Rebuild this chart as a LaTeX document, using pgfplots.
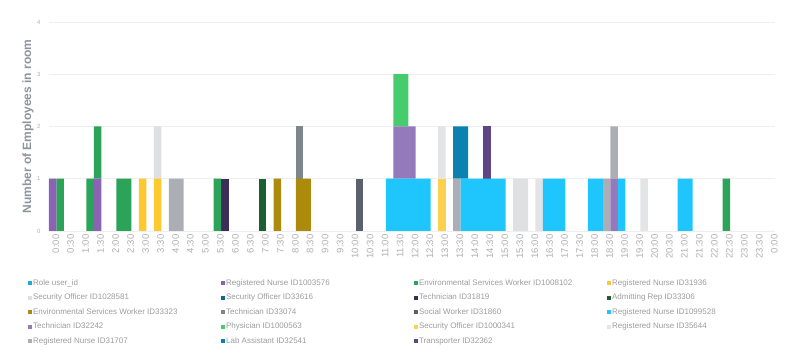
\documentclass[border=0pt]{standalone}
\usepackage{fontspec}
\setmainfont{Liberation Sans}
\usepackage{pgfplots}
\usepackage{pgfplotstable}
\pgfplotsset{compat=1.18}
\definecolor{c0}{HTML}{1FA8DC}
\definecolor{c1}{HTML}{8A63B3}
\definecolor{c2}{HTML}{2BA359}
\definecolor{c3}{HTML}{FCC930}
\definecolor{c4}{HTML}{DFE0E2}
\definecolor{c5}{HTML}{0C6A8E}
\definecolor{c6}{HTML}{3B2D55}
\definecolor{c7}{HTML}{1C5F32}
\definecolor{c8}{HTML}{AC8A0C}
\definecolor{c9}{HTML}{80868D}
\definecolor{c10}{HTML}{5B616B}
\definecolor{c11}{HTML}{1FC5FD}
\definecolor{c12}{HTML}{957ABB}
\definecolor{c13}{HTML}{46CC6C}
\definecolor{c14}{HTML}{FDD14F}
\definecolor{c15}{HTML}{E3E4E6}
\definecolor{c16}{HTML}{ABAFB5}
\definecolor{c17}{HTML}{0A82B0}
\definecolor{c18}{HTML}{5E4585}
\definecolor{ticktext}{HTML}{B0B0B0}
\definecolor{legtext}{HTML}{9C9C9C}
\definecolor{ylabtext}{HTML}{8C949C}
\definecolor{gridc}{HTML}{EEEEEE}
\newcommand{\lgd}[1]{\makebox[187pt][l]{#1}}
\pgfplotstableread{
x s1 s2 s3 s4 s5 s6 s7 s8 s9 s10 s11 s12 s13 s14 s15 s16 s17 s18
0 1 0 0 0 0 0 0 0 0 0 0 0 0 0 0 0 0 0
1 0 1 0 0 0 0 0 0 0 0 0 0 0 0 0 0 0 0
5 0 1 0 0 0 0 0 0 0 0 0 0 0 0 0 0 0 0
6 1 1 0 0 0 0 0 0 0 0 0 0 0 0 0 0 0 0
9 0 1 0 0 0 0 0 0 0 0 0 0 0 0 0 0 0 0
10 0 1 0 0 0 0 0 0 0 0 0 0 0 0 0 0 0 0
12 0 0 1 0 0 0 0 0 0 0 0 0 0 0 0 0 0 0
14 0 0 1 1 0 0 0 0 0 0 0 0 0 0 0 0 0 0
16 0 0 0 0 0 0 0 0 0 0 0 0 0 0 0 1 0 0
17 0 0 0 0 0 0 0 0 0 0 0 0 0 0 0 1 0 0
22 0 1 0 0 0 0 0 0 0 0 0 0 0 0 0 0 0 0
23 0 0 0 0 0 1 0 0 0 0 0 0 0 0 0 0 0 0
28 0 0 0 0 0 0 1 0 0 0 0 0 0 0 0 0 0 0
30 0 0 0 0 0 0 0 1 0 0 0 0 0 0 0 0 0 0
33 0 0 0 0 0 0 0 1 1 0 0 0 0 0 0 0 0 0
34 0 0 0 0 0 0 0 1 0 0 0 0 0 0 0 0 0 0
41 0 0 0 0 0 0 0 0 0 1 0 0 0 0 0 0 0 0
45 0 0 0 0 0 0 0 0 0 0 1 0 0 0 0 0 0 0
46 0 0 0 0 0 0 0 0 0 0 1 1 1 0 0 0 0 0
47 0 0 0 0 0 0 0 0 0 0 1 1 1 0 0 0 0 0
48 0 0 0 0 0 0 0 0 0 0 1 1 0 0 0 0 0 0
49 0 0 0 0 0 0 0 0 0 0 1 0 0 0 0 0 0 0
50 0 0 0 0 0 0 0 0 0 0 1 0 0 0 0 0 0 0
52 0 0 0 0 0 0 0 0 0 0 0 0 0 1 1 0 0 0
54 0 0 0 0 0 0 0 0 0 0 0 0 0 0 0 1 1 0
55 0 0 0 0 0 0 0 0 0 0 1 0 0 0 0 0 1 0
56 0 0 0 0 0 0 0 0 0 0 1 0 0 0 0 0 0 0
57 0 0 0 0 0 0 0 0 0 0 1 0 0 0 0 0 0 0
58 0 0 0 0 0 0 0 0 0 0 1 0 0 0 0 0 0 1
59 0 0 0 0 0 0 0 0 0 0 1 0 0 0 0 0 0 0
60 0 0 0 0 0 0 0 0 0 0 1 0 0 0 0 0 0 0
62 0 0 0 1 0 0 0 0 0 0 0 0 0 0 0 0 0 0
63 0 0 0 1 0 0 0 0 0 0 0 0 0 0 0 0 0 0
65 0 0 0 0 0 0 0 0 0 0 0 0 0 0 1 0 0 0
66 0 0 0 0 0 0 0 0 0 0 1 0 0 0 0 0 0 0
67 0 0 0 0 0 0 0 0 0 0 1 0 0 0 0 0 0 0
68 0 0 0 0 0 0 0 0 0 0 1 0 0 0 0 0 0 0
72 0 0 0 0 0 0 0 0 0 0 1 0 0 0 0 0 0 0
73 0 0 0 0 0 0 0 0 0 0 1 0 0 0 0 0 0 0
74 0 0 0 0 0 0 0 0 0 0 0 0 0 0 0 1 0 0
75 0 0 0 0 0 0 0 0 0 0 0 1 0 0 0 1 0 0
76 0 0 0 0 0 0 0 0 0 0 1 0 0 0 0 0 0 0
79 0 0 0 0 0 0 0 0 0 0 0 0 0 0 1 0 0 0
84 0 0 0 0 0 0 0 0 0 0 1 0 0 0 0 0 0 0
85 0 0 0 0 0 0 0 0 0 0 1 0 0 0 0 0 0 0
90 0 1 0 0 0 0 0 0 0 0 0 0 0 0 0 0 0 0
}\data
\begin{document}
\begin{tikzpicture}
\begin{axis}[
  name=ax,
  scale only axis,
  width=726pt, height=209pt,
  xmin=-0.5, xmax=96.5,
  ymin=0, ymax=4,
  ybar stacked,
  bar width=1,
  every axis plot post/.append style={legend image code/.code={\fill[##1,draw=none] (0pt,-2pt) rectangle (4pt,2pt);}},
  axis x line=bottom, axis y line=left,
  axis line style={draw=none},
  major tick length=0pt,
  tick style={draw=none},
  ymajorgrids,
  grid style={gridc, line width=0.7pt},
  ytick={0,1,2,3,4},
  /pgf/number format/assume math mode=true,
  yticklabel style={font=\fontsize{6}{7}\selectfont, text=ticktext, xshift=-5pt},
  xtick={0,2,...,96},
  xticklabels={0:00,0:30,1:00,1:30,2:00,2:30,3:00,3:30,4:00,4:30,5:00,5:30,6:00,6:30,7:00,7:30,8:00,8:30,9:00,9:30,10:00,10:30,11:00,11:30,12:00,12:30,13:00,13:30,14:00,14:30,15:00,15:30,16:00,16:30,17:00,17:30,18:00,18:30,19:00,19:30,20:00,20:30,21:00,21:30,22:00,22:30,23:00,23:30,0:00},
  xticklabel style={font=\fontsize{9.5}{10}\selectfont, text=ticktext, rotate=90, anchor=east, yshift=-3pt},
  ylabel={Number of Employees in room},
  every axis y label/.style={at={(axis description cs:-0.029,0.5)}, rotate=90, anchor=center, font=\bfseries\fontsize{12}{13}\selectfont, text=ylabtext},
  legend columns=4,
  legend cell align=left,
  legend style={at={(axis description cs:-0.029,-0.232)}, anchor=north west, draw=none, fill=none,
    font=\fontsize{8}{9}\selectfont, text=legtext, inner sep=0pt, row sep=7.5pt, column sep=0pt,
    nodes={inner ysep=0pt, inner xsep=1pt, text height=5.5pt, text depth=1.5pt}},
]
\addlegendimage{fill=c0, draw=none}
\addlegendentry{\lgd{Role user\_id}}
\addplot[fill=c1, draw=none] table[x=x,y=s1]{\data};
\addlegendentry{\lgd{Registered Nurse ID1003576}}
\addplot[fill=c2, draw=none] table[x=x,y=s2]{\data};
\addlegendentry{\lgd{Environmental Services Worker ID1008102}}
\addplot[fill=c3, draw=none] table[x=x,y=s3]{\data};
\addlegendentry{\lgd{Registered Nurse ID31936}}
\addplot[fill=c4, draw=none] table[x=x,y=s4]{\data};
\addlegendentry{\lgd{Security Officer ID1028581}}
\addplot[fill=c5, draw=none] table[x=x,y=s5]{\data};
\addlegendentry{\lgd{Security Officer ID33616}}
\addplot[fill=c6, draw=none] table[x=x,y=s6]{\data};
\addlegendentry{\lgd{Technician ID31819}}
\addplot[fill=c7, draw=none] table[x=x,y=s7]{\data};
\addlegendentry{\lgd{Admitting Rep ID33306}}
\addplot[fill=c8, draw=none] table[x=x,y=s8]{\data};
\addlegendentry{\lgd{Environmental Services Worker ID33323}}
\addplot[fill=c9, draw=none] table[x=x,y=s9]{\data};
\addlegendentry{\lgd{Technician ID33074}}
\addplot[fill=c10, draw=none] table[x=x,y=s10]{\data};
\addlegendentry{\lgd{Social Worker ID31860}}
\addplot[fill=c11, draw=none] table[x=x,y=s11]{\data};
\addlegendentry{\lgd{Registered Nurse ID1099528}}
\addplot[fill=c12, draw=none] table[x=x,y=s12]{\data};
\addlegendentry{\lgd{Technician ID32242}}
\addplot[fill=c13, draw=none] table[x=x,y=s13]{\data};
\addlegendentry{\lgd{Physician ID1000563}}
\addplot[fill=c14, draw=none] table[x=x,y=s14]{\data};
\addlegendentry{\lgd{Security Officer ID1000341}}
\addplot[fill=c15, draw=none] table[x=x,y=s15]{\data};
\addlegendentry{\lgd{Registered Nurse ID35644}}
\addplot[fill=c16, draw=none] table[x=x,y=s16]{\data};
\addlegendentry{\lgd{Registered Nurse ID31707}}
\addplot[fill=c17, draw=none] table[x=x,y=s17]{\data};
\addlegendentry{\lgd{Lab Assistant ID32541}}
\addplot[fill=c18, draw=none] table[x=x,y=s18]{\data};
\addlegendentry{\lgd{Transporter ID32362}}
\end{axis}
\pgfresetboundingbox
\path (ax.south west) ++(-49pt,-127pt) rectangle ++(800pt,358pt);
\end{tikzpicture}
\end{document}
